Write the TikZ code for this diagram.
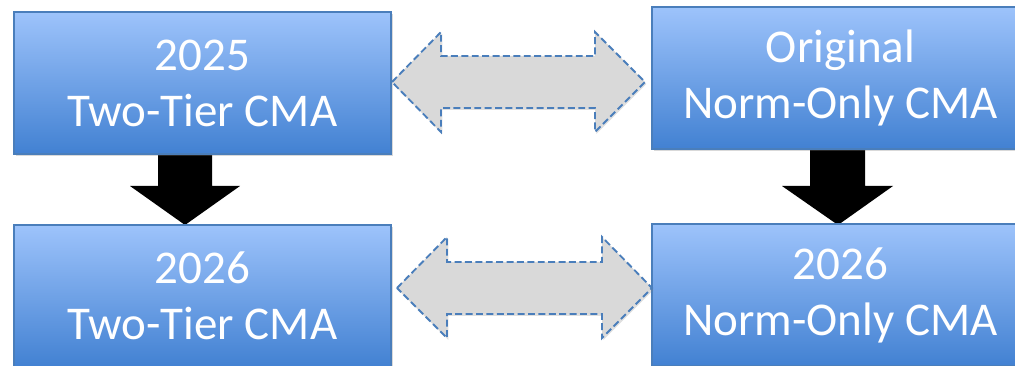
\documentclass[tikz,border=0pt]{standalone}
\usepackage{fontspec}
\setmainfont{Carlito}
\usetikzlibrary{shadows}
\definecolor{boxtop}{HTML}{9DC3FB}
\definecolor{boxbot}{HTML}{4281D2}
\definecolor{boxline}{HTML}{4A7EBB}
\definecolor{linkfill}{HTML}{D9D9D9}
\definecolor{linkline}{HTML}{4A7EBB}
\tikzset{
  cmabox/.style={rectangle, draw=boxline, line width=0.8pt,
    top color=boxtop, bottom color=boxbot,
    minimum width=282.75pt, minimum height=106.5pt, inner sep=0pt,
    text=white, align=center,
    font=\fontsize{35.25}{42}\selectfont,
    drop shadow={shadow xshift=1.2pt, shadow yshift=-1.5pt, opacity=0.3}},
  flowarrow/.style={fill=black},
  linkarrow/.style={fill=linkfill, draw=linkline, line width=1.4pt,
    dash pattern=on 5.2pt off 2.6pt, line join=miter,
    drop shadow={shadow xshift=1pt, shadow yshift=-1.5pt, opacity=0.25}}
}
\begin{document}
\begin{tikzpicture}[x=0.75pt, y=-0.75pt]
  \useasboundingbox (0,0) rectangle (1015,366);
  \clip (0,0) rectangle (1015,366);

  % downward block arrows (drawn first, they sit under the boxes)
  \path[flowarrow] (158,148) -- (212,148) -- (212,186) -- (240,186)
    -- (185,225) -- (130,186) -- (158,186) -- cycle;
  \path[flowarrow] (810,148) -- (865,148) -- (865,186) -- (893,186)
    -- (838,225) -- (782,186) -- (810,186) -- cycle;

  % the four boxes
  \node[cmabox] (tl) at (202.5,83) {2025\\Two-Tier CMA};
  \node[cmabox] (tr) at (840.5,78) {Original\\Norm-Only CMA};
  \node[cmabox] (bl) at (202.5,296) {2026\\Two-Tier CMA};
  \node[cmabox] (br) at (840.5,295) {2026\\Norm-Only CMA};

  % two-headed comparison arrows
  \draw[linkarrow] (392,82) -- (441,32) -- (441,56) -- (595,56) -- (595,32)
    -- (645,82) -- (595,132) -- (595,108) -- (441,108) -- (441,132) -- cycle;
  \draw[linkarrow] (397,288) -- (447,237) -- (447,262) -- (602,262) -- (602,237)
    -- (652,288) -- (602,338) -- (602,314) -- (447,314) -- (447,338) -- cycle;
\end{tikzpicture}
\end{document}
